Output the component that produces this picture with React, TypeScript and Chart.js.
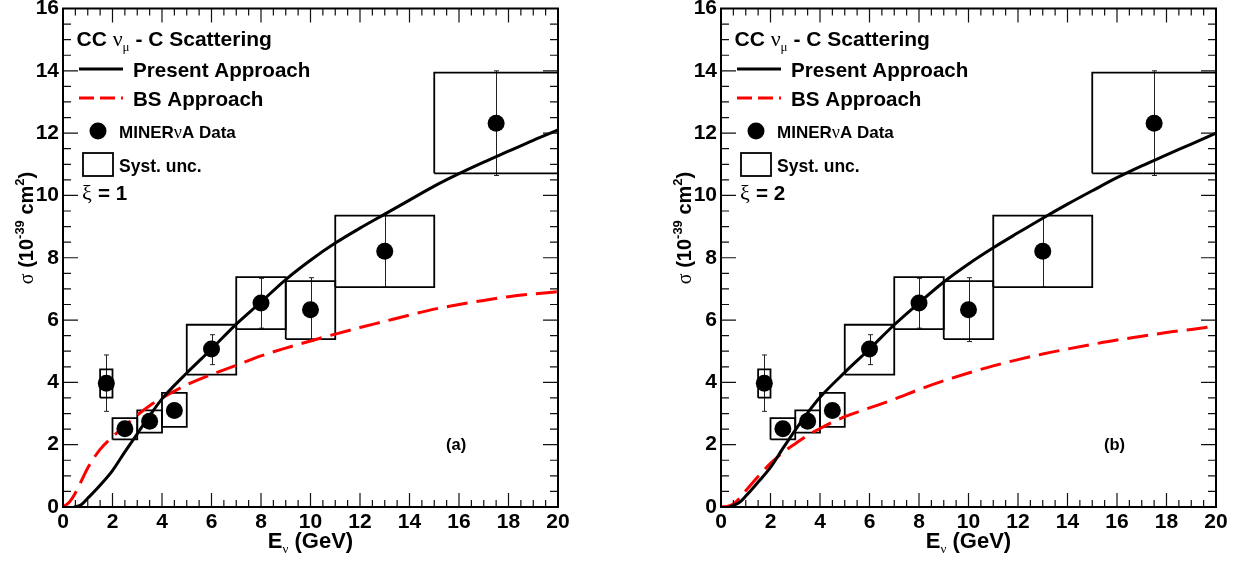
import React, { useEffect, useRef } from 'react';
import { Chart, registerables } from 'chart.js';

Chart.register(...registerables);

// ---------- data ----------
const energies = [1.75, 2.5, 3.5, 4.5, 6, 8, 10, 13, 17.5];
const binLow = [1.5, 2, 3, 4, 5, 7, 9, 11, 15];
const binHigh = [2, 3, 4, 5, 7, 9, 11, 15, 20];
const sigmaData = [3.97, 2.51, 2.75, 3.1, 5.07, 6.55, 6.33, 8.21, 12.32];
const systLow = [3.51, 2.17, 2.39, 2.57, 4.25, 5.71, 5.39, 7.06, 10.71];
const systHigh = [4.42, 2.85, 3.1, 3.66, 5.85, 7.38, 7.25, 9.35, 13.94];
const statLow = [3.07, 2.3, 2.55, 2.9, 4.57, 5.74, 5.31, 7.06, 10.64];
const statHigh = [4.88, 2.72, 2.95, 3.3, 5.53, 7.34, 7.36, 9.35, 14.0];

const presentE1 = [0.45, 0.75, 1, 1.5, 2, 2.5, 3, 3.5, 4, 5, 6, 7, 8, 9, 10, 11, 12, 13, 14, 15, 16, 17, 18, 19, 20];
const presentS1 = [0, 0.08, 0.28, 0.7, 1.17, 1.77, 2.35, 2.93, 3.47, 4.3, 5.07, 5.87, 6.58, 7.3, 7.92, 8.47, 8.95, 9.4, 9.85, 10.3, 10.7, 11.07, 11.42, 11.77, 12.1];
const bsE1 = [0, 0.25, 0.5, 0.75, 1, 1.5, 2, 2.5, 3, 3.5, 4, 5, 6, 7, 8, 9, 10, 11, 12, 13, 14, 15, 16, 17, 18, 19, 20];
const bsS1 = [0, 0.15, 0.45, 0.85, 1.25, 1.85, 2.25, 2.6, 2.95, 3.25, 3.5, 3.92, 4.25, 4.55, 4.85, 5.1, 5.33, 5.55, 5.76, 5.96, 6.16, 6.35, 6.5, 6.63, 6.75, 6.84, 6.91];

const presentE2 = [0.35, 0.75, 1, 1.5, 2, 2.5, 3, 3.5, 4, 5, 6, 7, 8, 9, 10, 11, 12, 13, 14, 15, 16, 17, 18, 19, 20];
const presentS2 = [0, 0.15, 0.35, 0.8, 1.27, 1.88, 2.47, 3.02, 3.52, 4.32, 5.07, 5.85, 6.55, 7.22, 7.8, 8.32, 8.8, 9.27, 9.72, 10.15, 10.57, 10.95, 11.3, 11.65, 12.0];
const bsE2 = [0, 0.25, 0.5, 0.75, 1, 1.5, 2, 2.5, 3, 3.5, 4, 5, 6, 7, 8, 9, 10, 11, 12, 13, 14, 15, 16, 17, 18, 19, 20];
const bsS2 = [0, 0.02, 0.1, 0.28, 0.52, 0.98, 1.4, 1.75, 2.03, 2.3, 2.52, 2.9, 3.18, 3.46, 3.77, 4.05, 4.3, 4.53, 4.73, 4.91, 5.07, 5.22, 5.36, 5.48, 5.6, 5.7, 5.81];

const xTickValues = [0, 2, 4, 6, 8, 10, 12, 14, 16, 18, 20];
const yTickValues = [0, 2, 4, 6, 8, 10, 12, 14, 16];

const FONT = "'Liberation Sans', Arial, Helvetica, sans-serif";
const GREEK = "'Liberation Serif', 'DejaVu Serif', serif";

type Part = { t: string; f: string; dy?: number };

function partsWidth(ctx: CanvasRenderingContext2D, parts: Part[]) {
  let w = 0;
  for (const p of parts) {
    ctx.font = p.f;
    w += ctx.measureText(p.t).width;
  }
  return w;
}

function drawParts(ctx: CanvasRenderingContext2D, x: number, y: number, parts: Part[]) {
  let cx = x;
  for (const p of parts) {
    ctx.font = p.f;
    ctx.fillText(p.t, cx, y + (p.dy || 0));
    cx += ctx.measureText(p.t).width;
  }
}

const decorPlugin = {
  id: 'decor',
  beforeDatasetsDraw(chart: any) {
    const ctx = chart.ctx as CanvasRenderingContext2D;
    const xs = chart.scales.x;
    const ys = chart.scales.y;
    ctx.save();
    ctx.strokeStyle = '#222';
    ctx.lineWidth = 1;
    energies.forEach((e, i) => {
      const px = Math.round(xs.getPixelForValue(e)) + 0.5;
      const y1 = ys.getPixelForValue(statLow[i]);
      const y2 = ys.getPixelForValue(statHigh[i]);
      ctx.beginPath();
      ctx.moveTo(px, y1);
      ctx.lineTo(px, y2);
      ctx.moveTo(px - 2.5, y1);
      ctx.lineTo(px + 2.5, y1);
      ctx.moveTo(px - 2.5, y2);
      ctx.lineTo(px + 2.5, y2);
      ctx.stroke();
    });
    ctx.restore();
  },
  afterDraw(chart: any) {
    const opts = chart.options.plugins.decor;
    const ctx = chart.ctx as CanvasRenderingContext2D;
    const a = chart.chartArea;
    const xs = chart.scales.x;
    const ys = chart.scales.y;
    ctx.save();
    // ticks
    ctx.strokeStyle = '#111';
    ctx.lineWidth = 1.2;
    ctx.beginPath();
    for (let v = 0; v <= 20.001; v += 0.5) {
      const px = xs.getPixelForValue(v);
      const major = Math.abs(v / 2 - Math.round(v / 2)) < 1e-6;
      const len = major ? 14 : 7;
      ctx.moveTo(px, a.bottom);
      ctx.lineTo(px, a.bottom - len);
      ctx.moveTo(px, a.top);
      ctx.lineTo(px, a.top + len);
    }
    for (let v = 0; v <= 16.001; v += 0.5) {
      const py = ys.getPixelForValue(v);
      const major = Math.abs(v / 2 - Math.round(v / 2)) < 1e-6;
      const len = major ? 15 : 8;
      ctx.moveTo(a.left, py);
      ctx.lineTo(a.left + len, py);
      ctx.moveTo(a.right, py);
      ctx.lineTo(a.right - len, py);
    }
    ctx.stroke();
    // frame
    ctx.strokeStyle = '#000';
    ctx.lineWidth = 2;
    ctx.strokeRect(a.left, a.top, a.right - a.left, a.bottom - a.top);

    ctx.fillStyle = '#000';
    ctx.textBaseline = 'alphabetic';
    ctx.textAlign = 'left';

    // x title
    const xParts: Part[] = [
      { t: 'E', f: `bold 22px ${FONT}` },
      { t: 'ν', f: `13px ${GREEK}`, dy: 5 },
      { t: ' (GeV)', f: `bold 22px ${FONT}` },
    ];
    const xw = partsWidth(ctx, xParts);
    drawParts(ctx, (a.left + a.right) / 2 - xw / 2, 548, xParts);

    // y title
    const yParts: Part[] = [
      { t: 'σ', f: `20px ${GREEK}` },
      { t: ' (10', f: `bold 20px ${FONT}` },
      { t: '-39', f: `bold 13px ${FONT}`, dy: -9 },
      { t: ' cm', f: `bold 20px ${FONT}` },
      { t: '2', f: `bold 13px ${FONT}`, dy: -9 },
      { t: ')', f: `bold 20px ${FONT}` },
    ];
    const yw = partsWidth(ctx, yParts);
    ctx.save();
    ctx.translate(33, 228);
    ctx.rotate(-Math.PI / 2);
    drawParts(ctx, -yw / 2, 0, yParts);
    ctx.restore();

    // legend block
    drawParts(ctx, 76.5, 46, [
      { t: 'CC ', f: `bold 21px ${FONT}` },
      { t: 'ν', f: `22px ${GREEK}` },
      { t: 'μ', f: `13px ${GREEK}`, dy: 5 },
      { t: ' - C Scattering', f: `bold 21px ${FONT}` },
    ]);

    ctx.strokeStyle = '#000';
    ctx.lineWidth = 3;
    ctx.beginPath();
    ctx.moveTo(79, 69);
    ctx.lineTo(123, 69);
    ctx.stroke();
    ctx.font = `bold 20.6px ${FONT}`;
    ctx.fillText('Present Approach', 133, 76.5);

    ctx.strokeStyle = '#ff0000';
    ctx.setLineDash([15, 6]);
    ctx.beginPath();
    ctx.moveTo(79, 98);
    ctx.lineTo(123, 98);
    ctx.stroke();
    ctx.setLineDash([]);
    ctx.fillText('BS Approach', 133, 105.5);

    ctx.beginPath();
    ctx.arc(98, 131, 8.5, 0, Math.PI * 2);
    ctx.fill();
    drawParts(ctx, 119, 137.5, [
      { t: 'MINER', f: `bold 17px ${FONT}` },
      { t: 'ν', f: `18px ${GREEK}` },
      { t: 'A Data', f: `bold 17px ${FONT}` },
    ]);

    ctx.strokeStyle = '#000';
    ctx.lineWidth = 1.8;
    ctx.strokeRect(83, 153, 30, 23);
    ctx.font = `bold 17.5px ${FONT}`;
    ctx.fillText('Syst. unc.', 119, 171.5);

    ctx.font = `22px ${GREEK}`;
    ctx.fillText('ξ', 82, 200);
    ctx.font = `bold 20.6px ${FONT}`;
    ctx.fillText('= ' + opts.xi, 98, 200);

    ctx.font = `bold 16.5px ${FONT}`;
    ctx.fillText(`(${opts.tag})`, 446, 449.5);
    ctx.restore();
  },
};

type PanelProps = {
  left: number;
  tag: string;
  xi: string;
  presE: number[];
  presS: number[];
  bsE: number[];
  bsS: number[];
};

function Panel({ left, tag, xi, presE, presS, bsE, bsS }: PanelProps) {
  const ref = useRef<HTMLCanvasElement | null>(null);
  useEffect(() => {
    if (!ref.current) return;
    const datasets: any[] = [];
    datasets.push({
      label: 'MINERvA Data',
      data: energies.map((e, i) => ({ x: e, y: sigmaData[i] })),
      showLine: false,
      pointRadius: 8.5,
      pointHoverRadius: 8.5,
      pointBackgroundColor: '#000',
      pointBorderColor: '#000',
      pointBorderWidth: 0,
      order: 0,
    });
    datasets.push({
      label: 'Present Approach',
      data: presE.map((e, i) => ({ x: e, y: presS[i] })),
      borderColor: '#000',
      borderWidth: 3,
      pointRadius: 0,
      cubicInterpolationMode: 'monotone',
      fill: false,
      order: 1,
    });
    datasets.push({
      label: 'BS Approach',
      data: bsE.map((e, i) => ({ x: e, y: bsS[i] })),
      borderColor: '#ff0000',
      borderWidth: 3,
      borderDash: [21, 9],
      pointRadius: 0,
      cubicInterpolationMode: 'monotone',
      fill: false,
      order: 2,
    });
    energies.forEach((_, i) => {
      datasets.push({
        label: 'Syst. unc. ' + i,
        data: [
          { x: binLow[i], y: systLow[i] },
          { x: binHigh[i], y: systLow[i] },
          { x: binHigh[i], y: systHigh[i] },
          { x: binLow[i], y: systHigh[i] },
          { x: binLow[i], y: systLow[i] },
        ],
        borderColor: '#000',
        borderWidth: 1.8,
        pointRadius: 0,
        tension: 0,
        fill: false,
        order: 3,
      });
    });

    const tickFont = { family: FONT, size: 21, weight: 'bold' as const };
    const chart = new Chart(ref.current, {
      type: 'line',
      data: { datasets },
      plugins: [decorPlugin as any],
      options: {
        responsive: false,
        animation: false,
        events: [],
        layout: { padding: { left: 0, top: 6, right: 27, bottom: 0 } },
        plugins: {
          legend: { display: false },
          tooltip: { enabled: false },
          decor: { tag, xi },
        } as any,
        scales: {
          x: {
            type: 'linear',
            min: 0,
            max: 20,
            afterFit: (s: any) => {
              s.height = 60;
              s.paddingLeft = 0;
              s.paddingRight = 0;
            },
            afterBuildTicks: (s: any) => {
              s.ticks = xTickValues.map((v) => ({ value: v }));
            },
            grid: { display: false, drawTicks: false },
            border: { display: false },
            ticks: { font: tickFont, color: '#000', padding: 3, maxRotation: 0, autoSkip: false },
          },
          y: {
            type: 'linear',
            min: 0,
            max: 16,
            afterFit: (s: any) => {
              s.width = 63;
              s.paddingTop = 0;
              s.paddingBottom = 0;
            },
            afterBuildTicks: (s: any) => {
              s.ticks = yTickValues.map((v) => ({ value: v }));
            },
            grid: { display: false, drawTicks: false },
            border: { display: false },
            ticks: { font: tickFont, color: '#000', padding: 4, autoSkip: false },
          },
        },
      },
    });
    return () => chart.destroy();
  }, [left, tag, xi, presE, presS, bsE, bsS]);
  return (
    <canvas
      ref={ref}
      width={585}
      height={567}
      style={{ position: 'absolute', left, top: 0, width: 585, height: 567 }}
    />
  );
}

export default function App() {
  return (
    <div style={{ position: 'absolute', left: 0, top: 0, width: 1243, height: 567, background: '#fff' }}>
      <Panel left={0} tag="a" xi="1" presE={presentE1} presS={presentS1} bsE={bsE1} bsS={bsS1} />
      <Panel left={658} tag="b" xi="2" presE={presentE2} presS={presentS2} bsE={bsE2} bsS={bsS2} />
    </div>
  );
}
